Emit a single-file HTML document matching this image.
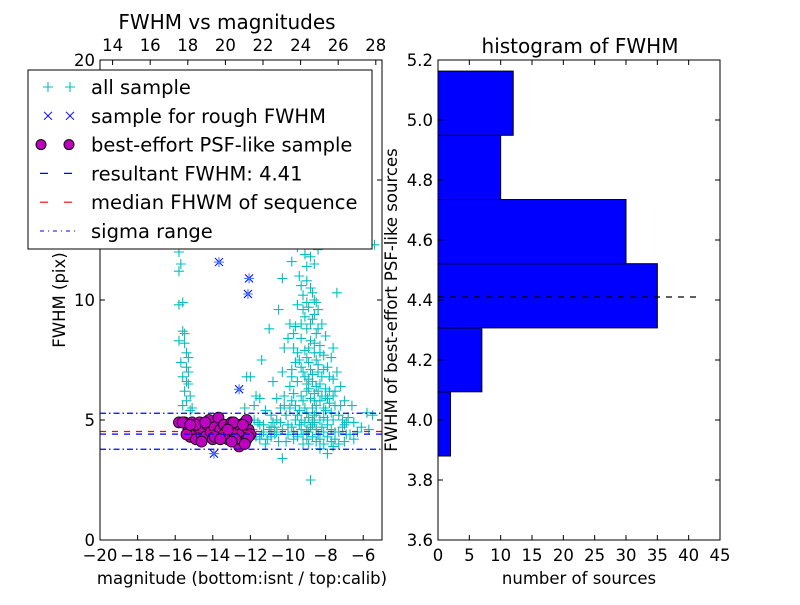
<!DOCTYPE html>
<html><head><meta charset="utf-8"><style>
body{margin:0;background:#fff}
svg text{font-family:"DejaVu Sans","Liberation Sans",sans-serif;fill:#000}
</style></head><body>
<svg id="c" width="800" height="600" viewBox="0 0 800 600">
<rect width="800" height="600" fill="#fff"/>
<g id="L"></g>
<g id="R"></g>
</svg>
<script>
const allSample=[[-15.8,11.2],[-15.7,11.5],[-15.8,9.8],[-15.6,9.9],[-15.6,8.7],[-15.5,8.6],[-15.5,8.2],[-15.8,8.3],[-15.4,7.8],[-15.3,7.6],[-15.4,7.2],[-15.6,6.8],[-15.3,6.5],[-15.5,6.2],[-15.2,6.0],[-15.4,5.8],[-15.6,5.6],[-15.1,5.5],[-15.3,7.0],[-15.7,7.4],[-15.8,12.0],[-15.4,6.6],[-15.2,5.4],
[-12.2,6.8],[-12.0,6.8],[-11.7,6.0],[-11.5,5.9],[-11.8,5.6],[-11.2,5.4],[-12.3,5.5],[-10.9,5.2],[-11.0,8.8],[-11.4,7.5],[-10.8,6.6],[-10.3,7.0],[-10.2,8.0],[-9.9,9.0],[-10.5,9.6],[-10.3,10.9],[-9.8,11.6],[-9.6,12.7],[-10.1,12.9],[-9.2,12.6],[-8.9,12.3],[-9.5,12.2],[-9.1,11.9],[-8.6,11.5],[-8.4,12.1],[-7.4,10.3],[-5.4,12.3],[-5.5,5.2],[-5.8,5.3],[-6.5,4.9],[-6.3,4.5],[-6.1,4.7],[-7.0,4.8],[-6.8,5.1],[-5.7,4.6],
[-9.4,11.0],[-9.0,10.8],[-8.8,10.5],[-9.2,10.2],[-8.6,10.0],[-9.5,9.8],[-8.9,9.7],[-8.4,9.6],[-9.1,9.3],[-8.7,9.2],[-8.2,9.0],[-9.6,8.9],[-9.0,8.8],[-8.5,8.6],[-8.0,8.5],[-9.3,8.4],[-8.8,8.3],[-8.3,8.1],[-9.7,8.0],[-9.1,7.9],[-8.6,7.8],[-8.1,7.7],[-7.7,7.6],[-9.4,7.5],[-8.9,7.4],[-8.4,7.3],[-7.9,7.2],[-9.8,7.1],[-9.2,7.0],[-8.7,6.9],[-8.2,6.8],[-7.6,6.7],[-9.5,6.6],[-9.0,6.5],[-8.5,6.4],[-8.0,6.3],[-7.5,6.2],[-9.7,6.1],[-9.3,6.0],[-8.8,5.9],[-8.3,5.8],[-7.8,5.7],[-7.2,5.6],[-9.9,5.5],[-9.4,5.4],[-9.0,5.3],[-8.6,5.2],[-8.1,5.1],[-7.6,5.0],[-7.1,5.0],[-10.2,5.6],[-9.6,5.0],[-9.1,4.9],[-8.7,4.8],[-8.2,4.7],[-7.7,4.6],[-7.3,4.5],[-6.9,4.4],[-10.4,4.9],[-9.8,4.7],[-9.3,4.6],[-8.9,4.5],[-8.4,4.4],[-7.9,4.3],[-7.5,4.2],[-7.0,4.1],[-10.6,4.5],[-10.0,4.4],[-9.5,4.3],[-9.0,4.2],[-8.5,4.1],[-8.1,4.0],[-7.6,3.9],[-7.9,3.6],[-8.3,3.8],[-8.8,2.5],[-10.3,3.4],[-8.6,6.1],[-8.9,6.7],[-8.4,7.0],[-8.7,5.5],[-8.5,5.6],[-8.2,6.0],[-9.2,5.8],[-9.0,6.2],[-8.8,7.1],[-8.3,6.5],[-7.9,5.9],[-8.0,5.4],[-7.8,6.8],[-8.6,9.4],[-9.3,9.0],
[-11.9,4.6],[-11.7,4.3],[-11.5,4.8],[-11.3,4.5],[-11.1,4.2],[-10.9,4.7],[-10.7,4.4],[-10.5,4.1],[-11.6,4.9],[-11.2,4.0],[-10.8,4.9],[-11.4,4.4],[-12.0,4.2],[-11.8,5.0],[-10.6,5.0],[-10.1,4.1],[-9.7,4.5],[-9.2,4.0],
[-9.5,7.8],[-9.3,7.2],[-9.1,6.8],[-8.9,6.3],[-8.7,6.6],[-8.5,7.5],[-8.3,7.8],[-8.1,7.1],[-8.9,8.0],[-9.0,7.6],[-8.6,8.2],[-8.4,8.8],[-8.8,9.0],[-9.2,9.6],[-8.7,10.3],[-9.0,11.4],[-8.8,11.8],[-9.3,10.6],[-8.5,9.9],[-9.0,9.9],
[-9.9,6.4],[-9.8,5.8],[-9.6,5.6],[-9.5,5.2],[-9.3,5.0],[-9.1,5.5],[-8.9,5.1],[-8.7,5.0],[-8.5,5.3],[-8.3,5.0],[-8.1,5.5],[-7.9,5.0],[-7.7,5.3],[-7.5,5.6],[-7.3,5.2],[-7.8,6.2],[-7.6,6.0],[-8.0,6.0],[-8.4,6.2],[-8.6,5.8],
[-10.0,4.8],[-9.7,4.2],[-9.4,4.8],[-9.2,4.4],[-8.9,4.0],[-8.7,4.3],[-8.5,4.6],[-8.3,4.2],[-8.1,4.5],[-7.9,4.8],[-7.7,4.1],[-7.5,4.5],[-7.3,4.0],[-7.1,4.7],[-6.9,4.9],[-6.7,4.4],[-6.5,4.2],[-8.6,4.9],[-8.8,4.7],[-9.0,4.6],
[-10.3,4.6],[-10.1,5.2],[-10.4,5.5],[-10.7,4.7],[-10.9,4.3],[-11.0,4.6],[-11.3,4.8],[-11.5,4.2],[-11.8,4.4],[-10.2,6.0],[-10.6,5.9],[-9.8,6.8],[-9.6,7.4],[-9.7,8.6],[-10.0,8.4],[-7.2,6.4],[-7.0,5.8],[-6.6,5.6],[-7.4,7.0],[-7.6,8.0]];
const roughSample=[[-13.67,11.58],[-12.07,10.9],[-12.13,10.25],[-12.6,6.28],[-13.94,3.6]];
const psfSample=[[-15.8,4.9],[-15.5,4.9],[-15.3,4.6],[-15.2,4.3],[-15.1,4.9],[-15.0,4.5],[-14.9,4.2],[-14.8,4.7],[-14.7,4.9],[-14.6,4.4],[-14.5,4.6],[-14.4,4.3],[-14.3,4.8],[-14.2,5.0],[-14.1,4.5],[-14.0,4.2],[-13.9,4.7],[-13.8,4.4],[-13.7,5.1],[-13.6,4.6],[-13.5,4.3],[-13.4,4.8],[-13.3,4.5],[-13.2,4.2],[-13.1,4.7],[-13.0,4.9],[-12.9,4.4],[-12.8,4.6],[-12.7,4.1],[-12.6,4.8],[-12.5,4.3],[-12.4,4.5],[-12.3,4.9],[-12.2,4.2],[-12.1,4.6],[-12.0,4.4],[-12.2,5.0],[-12.6,3.9],[-12.8,4.2],[-13.0,4.1],[-15.4,4.4],[-14.9,4.8],[-14.4,4.9],[-13.9,4.3],[-13.4,4.4],[-12.9,4.9],[-12.4,4.8],[-12.1,4.3],[-14.6,4.1],[-13.6,4.2],[-15.6,4.9],[-15.2,4.8],[-12.3,4.0],[-13.2,4.6]];
const resultantFwhm=4.41;
const medianFwhm=4.52;
const sigmaRange=[3.78,5.28];
const binEdges=[3.88,4.094,4.307,4.521,4.735,4.949,5.163];
const binCounts=[2,7,35,30,10,12];
const xTicksBottom=[-20,-18,-16,-14,-12,-10,-8,-6];
const xTicksTop=[14,16,18,20,22,24,26,28];
const yTicksLeft=[0,5,10,15,20];
const yTicksHist=[3.6,3.8,4.0,4.2,4.4,4.6,4.8,5.0,5.2];
const xTicksHist=[0,5,10,15,20,25,30,35,40,45];
const calibOffset=33.33;

const NS='http://www.w3.org/2000/svg';
function mk(p,t,a,txt){const e=document.createElementNS(NS,t);for(const k in a)e.setAttribute(k,a[k]);if(txt!==undefined)e.textContent=txt;p.appendChild(e);return e;}
const L=document.getElementById('L'),R=document.getElementById('R');
const TF=16.5, TT=20, LF=19.5;
const lx0=100,lx1=382,ly0=540,ly1=60;
const X=v=>lx0+(v+20)/15*(lx1-lx0);
const Y=v=>ly0-v/20*(ly0-ly1);
const XT=v=>X(v-calibOffset);
const pts=mk(L,'g',{});

function plus(g,x,y,c){mk(g,'path',{d:`M${x-5} ${y}h10M${x} ${y-5}v10`,stroke:c,'stroke-width':1.1});}
function cross(g,x,y,c){mk(g,'path',{d:`M${x-4} ${y-4}l8 8M${x-4} ${y+4}l8 -8`,stroke:c,'stroke-width':1});}
allSample.forEach(p=>plus(pts,X(p[0]),Y(p[1]),'#00bfbf'));
const rg=mk(L,'g',{});
roughSample.forEach(p=>{cross(rg,X(p[0]),Y(p[1]),'#0000ff');plus(rg,X(p[0]),Y(p[1]),'#4080ff');});
const pg=mk(L,'g',{});
psfSample.forEach(p=>mk(pg,'circle',{cx:X(p[0]),cy:Y(p[1]),r:5.5,fill:'#bf00bf',stroke:'#000','stroke-width':0.8}));
const hl=(v,c,da,n)=>{const e=mk(L,'line',{x1:lx0,x2:lx1,y1:Y(v),y2:Y(v),stroke:c,'stroke-width':1.2,'stroke-dasharray':da});};
hl(medianFwhm,'#ff0000','6 6','median-line');
hl(resultantFwhm,'#0000ff','6 6','resultant-line');
hl(sigmaRange[0],'#0000ff','6 3 1.5 3','sigma-low-line');
hl(sigmaRange[1],'#0000ff','6 3 1.5 3','sigma-high-line');
mk(L,'rect',{x:lx0,y:ly1,width:lx1-lx0,height:ly0-ly1,fill:'none',stroke:'#000','stroke-width':1});
xTicksBottom.forEach(v=>{const x=X(v);mk(L,'path',{d:`M${x} ${ly0}v-5`,stroke:'#000'});mk(L,'text',{x:x,y:561,'text-anchor':'middle','font-size':TF},String(v).replace('-','\u2212'));});
xTicksTop.forEach(v=>{const x=XT(v);mk(L,'path',{d:`M${x} ${ly1}v5`,stroke:'#000'});mk(L,'text',{x:x,y:51,'text-anchor':'middle','font-size':TF},v);});
yTicksLeft.forEach(v=>{const y=Y(v);mk(L,'path',{d:`M${lx0} ${y}h5M${lx1} ${y}h-5`,stroke:'#000'});mk(L,'text',{x:95,y:y+6,'text-anchor':'end','font-size':TF},v);});
mk(L,'text',{x:227,y:29,'text-anchor':'middle','font-size':TT},'FWHM vs magnitudes');
mk(L,'text',{x:242,y:584,'text-anchor':'middle','font-size':TF},'magnitude (bottom:isnt / top:calib)');
mk(L,'text',{x:0,y:0,'text-anchor':'middle','font-size':TF,transform:'translate(65 300) rotate(-90)'},'FWHM (pix)');
const lg=mk(L,'g',{});
mk(lg,'rect',{x:28,y:70,width:344,height:179,fill:'#fff',stroke:'#000'});
const labs=['all sample','sample for rough FWHM','best-effort PSF-like sample','resultant FWHM: 4.41','median FHWM of sequence','sigma range'];
labs.forEach((t,i)=>{const y=87+i*28.8;const e=mk(lg,'g',{});
 if(i==0){plus(e,48,y,'#00bfbf');plus(e,70,y,'#00bfbf');}
 if(i==1){cross(e,48,y,'#0000ff');cross(e,70,y,'#0000ff');}
 if(i==2){mk(e,'circle',{cx:41,cy:y,r:5,fill:'#bf00bf',stroke:'#000'});mk(e,'circle',{cx:69,cy:y,r:5,fill:'#bf00bf',stroke:'#000'});}
 if(i==3)mk(e,'line',{x1:40,x2:76,y1:y,y2:y,stroke:'#0000ff','stroke-width':1.2,'stroke-dasharray':'8 16'});
 if(i==4)mk(e,'line',{x1:40,x2:76,y1:y,y2:y,stroke:'#ff0000','stroke-width':1.2,'stroke-dasharray':'8 16'});
 if(i==5)mk(e,'line',{x1:40,x2:76,y1:y,y2:y,stroke:'#0000ff','stroke-dasharray':'4 4 1 4'});
 mk(e,'text',{x:91,y:y+7,'font-size':LF},t);});
const rx0=438,rx1=720,ry0=540,ry1=60;
const HX=v=>rx0+v/45*(rx1-rx0);
const HY=v=>ry0-(v-3.6)/1.6*(ry0-ry1);
binCounts.forEach((c,i)=>{const b=mk(R,'rect',{x:HX(0),y:HY(binEdges[i+1]),width:HX(c)-HX(0),height:HY(binEdges[i])-HY(binEdges[i+1]),fill:'#0000ff',stroke:'#000','stroke-width':1});});
mk(R,'line',{x1:rx0,x2:HX(41.5),y1:HY(resultantFwhm),y2:HY(resultantFwhm),stroke:'#000','stroke-width':1.2,'stroke-dasharray':'6 6'});
mk(R,'rect',{x:rx0,y:ry1,width:rx1-rx0,height:ry0-ry1,fill:'none',stroke:'#000'});
yTicksHist.forEach(v=>{const y=HY(v);mk(R,'path',{d:`M${rx0} ${y}h5M${rx1} ${y}h-5`,stroke:'#000'});mk(R,'text',{x:433,y:y+6,'text-anchor':'end','font-size':TF},v.toFixed(1));});
xTicksHist.forEach(v=>{const x=HX(v);mk(R,'path',{d:`M${x} ${ry0}v-5M${x} ${ry1}v5`,stroke:'#000'});mk(R,'text',{x:x,y:561,'text-anchor':'middle','font-size':TF},v);});
mk(R,'text',{x:580,y:53,'text-anchor':'middle','font-size':TT},'histogram of FWHM');
mk(R,'text',{x:579,y:584,'text-anchor':'middle','font-size':TF},'number of sources');
mk(R,'text',{x:0,y:0,'text-anchor':'middle','font-size':TF,transform:'translate(397 300) rotate(-90)'},'FWHM of best-effort PSF-like sources');
</script>
</body></html>
